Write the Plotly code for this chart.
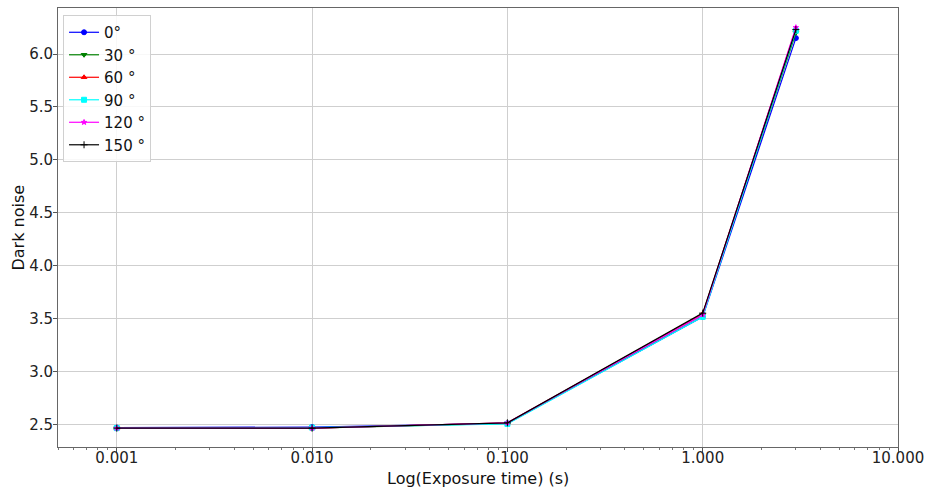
import plotly.graph_objects as go
import numpy as np

exposure = [0.001, 0.01, 0.1, 1.0, 3.0]
series_names = ["0°", "30 °", "60 °", "90 °", "120 °", "150 °"]
noise_0 = [2.475, 2.48, 2.515, 3.52, 6.15]
noise_30 = [2.47, 2.47, 2.515, 3.54, 6.20]
noise_60 = [2.47, 2.47, 2.52, 3.55, 6.24]
noise_90 = [2.47, 2.475, 2.51, 3.52, 6.22]
noise_120 = [2.47, 2.47, 2.52, 3.54, 6.25]
noise_150 = [2.47, 2.47, 2.52, 3.555, 6.23]
x_tickvals = [0.001, 0.01, 0.1, 1, 10]
x_ticktext = ["0.001", "0.010", "0.100", "1.000", "10.000"]
y_tickvals = [2.5, 3.0, 3.5, 4.0, 4.5, 5.0, 5.5, 6.0]

all_series = [noise_0, noise_30, noise_60, noise_90, noise_120, noise_150]
colors = ["blue", "green", "red", "cyan", "magenta", "black"]
symbols = ["circle", "triangle-down", "triangle-up", "square", "star", "cross-thin"]
sizes = [5, 5, 5, 5, 4, 5]

fig = go.Figure()
for name, ys, c, s, sz in zip(series_names, all_series, colors, symbols, sizes):
    fig.add_trace(go.Scatter(
        x=exposure, y=ys, name=name, mode="lines+markers",
        line=dict(color=c, width=1.2),
        marker=dict(color=c, symbol=s, size=sz, line=dict(color=c, width=1)),
    ))

minor_vals = []
for d in range(-4, 1):
    for k in range(2, 10):
        v = k * 10 ** d
        if 0.0005 <= v <= 10:
            minor_vals.append(v)

fig.update_layout(
    width=930, height=487,
    margin=dict(l=58, r=32, t=8, b=40, autoexpand=False),
    paper_bgcolor="white", plot_bgcolor="white",
    font=dict(family="DejaVu Sans", size=15, color="#222"),
    showlegend=True,
    legend=dict(
        x=0.006, y=0.984, xanchor="left", yanchor="top",
        bgcolor="rgba(255,255,255,0.85)", bordercolor="#d0d0d0", borderwidth=1,
        font=dict(size=15, color="#111"), tracegroupgap=0, itemwidth=30,
    ),
    xaxis=dict(
        type="log", range=[np.log10(0.0005), 1], automargin=False,
        tickmode="array", tickvals=x_tickvals, ticktext=x_ticktext,
        showgrid=True, gridcolor="#cfcfcf", gridwidth=1,
        ticks="outside", ticklen=4, tickcolor="#555", ticklabelstandoff=-7,
        showline=True, linecolor="#666", linewidth=1, mirror=True,
        minor=dict(tickmode="array", tickvals=minor_vals, ticks="outside",
                   ticklen=2, tickcolor="#777", showgrid=False),
        zeroline=False,
    ),
    yaxis=dict(
        range=[2.292, 6.434], automargin=False,
        tickmode="array", tickvals=y_tickvals, tickformat=".1f",
        showgrid=True, gridcolor="#cfcfcf", gridwidth=1,
        ticks="outside", ticklen=4, tickcolor="#555", ticklabelstandoff=-3,
        showline=True, linecolor="#666", linewidth=1, mirror=True,
        zeroline=False,
    ),
    annotations=[
        dict(text="Log(Exposure time) (s)", xref="paper", yref="paper",
             x=0.5, y=-0.0, yshift=-31, xanchor="center", yanchor="middle",
             showarrow=False, font=dict(size=16, color="#111")),
        dict(text="Dark noise", xref="paper", yref="paper",
             x=0.0, y=0.5, xshift=-40, xanchor="center", yanchor="middle",
             textangle=-90, showarrow=False, font=dict(size=16, color="#111")),
    ],
)

fig.write_html("out.html")
